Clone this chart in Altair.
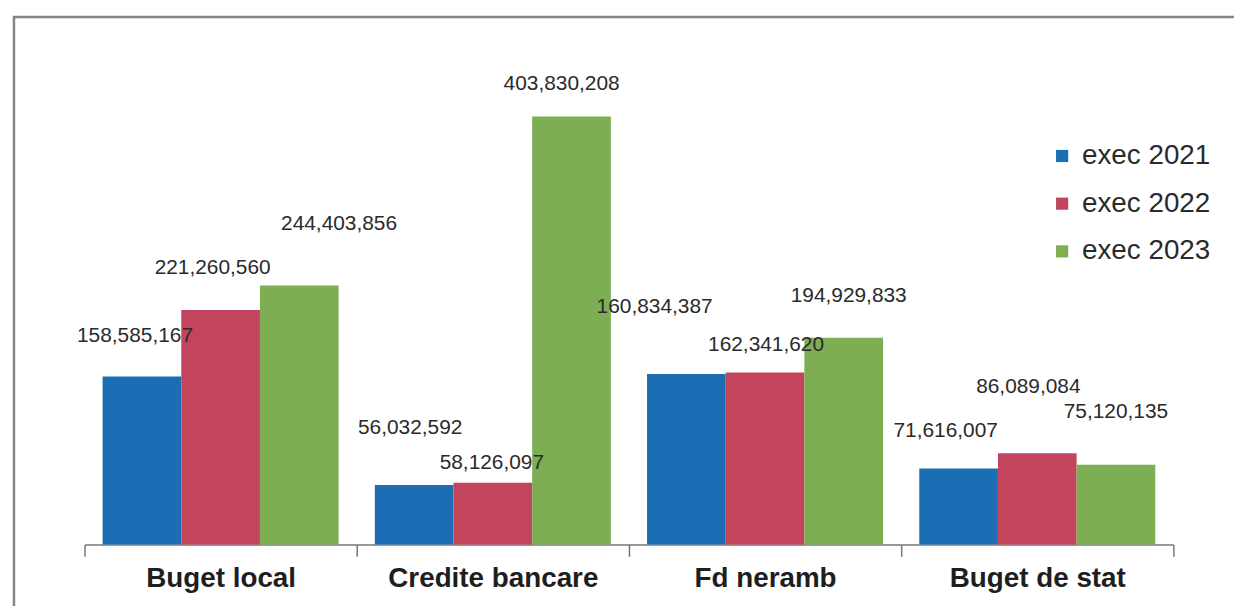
import altair as alt
import pandas as pd

categories = ["Buget local", "Credite bancare", "Fd neramb", "Buget de stat"]
series = ["exec 2021", "exec 2022", "exec 2023"]
exec_2021 = [158585167, 56032592, 160834387, 71616007]
exec_2022 = [221260560, 58126097, 162341620, 86089084]
exec_2023 = [244403856, 403830208, 194929833, 75120135]
colors = ["#1b6db4", "#c2455d", "#7dae53"]

# label placement (pixel offsets from bar top centre), as placed in the original
label_dx = [[-7, -4, -32, -13], [-8, -1, 1, -9], [40, -10, 5, 0]]
label_dy = [[-41, -57, -67, -38], [-42, -20, -28, -67], [-62, -33, -42, -53]]

rows = []
for s, vals in zip(series, [exec_2021, exec_2022, exec_2023]):
    for c, v in zip(categories, vals):
        rows.append({"cat": c, "series": s, "value": v})
df = pd.DataFrame(rows)

W, H = 1096, 512

x_enc = alt.X(
    "cat:N",
    sort=categories,
    scale=alt.Scale(paddingInner=0, paddingOuter=0),
    axis=alt.Axis(
        title=None,
        labelAngle=0,
        tickBand="extent",
        domainColor="#777777",
        domainWidth=1.5,
        tickColor="#777777",
        tickWidth=1.5,
        tickSize=12,
        labelFont="Liberation Sans",
        labelFontWeight="bold",
        labelFontSize=28,
        labelColor="#1e1e1e",
        labelPadding=8,
        labelLimit=0,
    ),
)
xo_enc = alt.XOffset(
    "series:N", sort=series, scale=alt.Scale(paddingInner=0, paddingOuter=0.23)
)
y_enc = alt.Y("value:Q", scale=alt.Scale(domain=[0, 480e6]), axis=None)

border = alt.Chart(pd.DataFrame({"a": [0]})).mark_rect(
    fill="transparent", stroke="#858585", strokeWidth=2.5
).encode(x=alt.value(-71), x2=alt.value(1300), y=alt.value(-19), y2=alt.value(640))

bars = alt.Chart(df).mark_bar().encode(
    x=x_enc,
    xOffset=xo_enc,
    y=y_enc,
    color=alt.Color(
        "series:N",
        sort=series,
        scale=alt.Scale(domain=series, range=colors),
        legend=alt.Legend(
            title=None,
            orient="none",
            legendX=970,
            legendY=107,
            symbolType="square",
            symbolSize=150,
            symbolStrokeWidth=0,
            labelFont="Liberation Sans",
            labelFontSize=28,
            labelColor="#2a2a2a",
            labelOffset=6,
            rowPadding=20,
            padding=0,
        ),
    ),
)

label_layers = []
for i, s in enumerate(series):
    for j, c in enumerate(categories):
        label_layers.append(
            alt.Chart(df)
            .transform_filter((alt.datum.series == s) & (alt.datum.cat == c))
            .mark_text(
                dx=label_dx[i][j],
                dy=label_dy[i][j],
                baseline="middle",
                fontSize=21,
                font="Liberation Sans",
                color="#2a2a2a",
            )
            .encode(
                x=x_enc,
                xOffset=xo_enc,
                y=y_enc,
                text=alt.Text("value:Q", format=","),
            )
        )

chart = (
    alt.layer(border, bars, *label_layers)
    .properties(
        width=W,
        height=H,
        background="white",
        autosize=alt.AutoSizeParams(type="none"),
        padding={"left": 77, "top": 26, "right": 61, "bottom": 60},
    )
    .configure_view(strokeWidth=0, stroke="transparent")
)

chart.save("out.html", embed_options={"renderer": "svg", "actions": False})
